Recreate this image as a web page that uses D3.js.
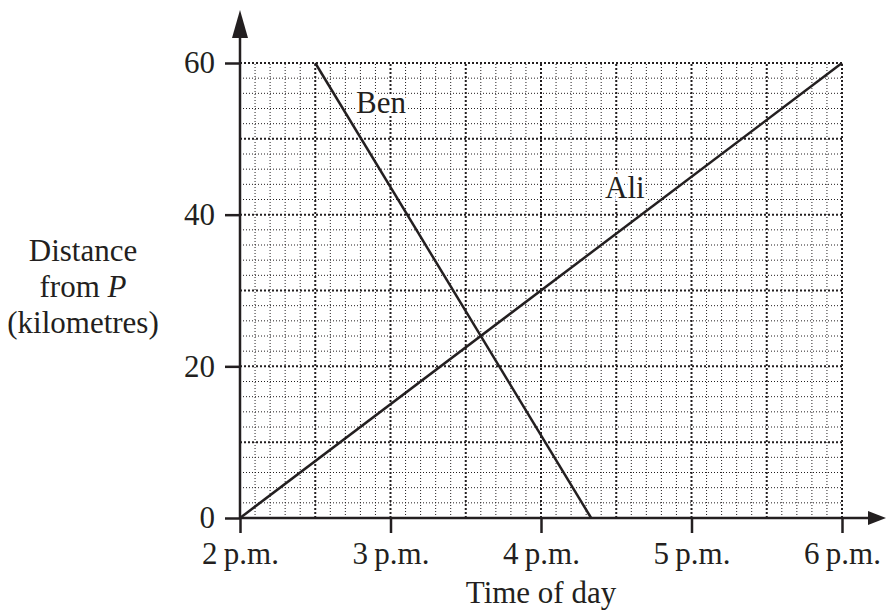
<!DOCTYPE html>
<html>
<head>
<meta charset="utf-8">
<script src="https://cdn.jsdelivr.net/npm/d3@7"></script>
<style>
  html, body { margin: 0; padding: 0; background: #fff; }
  svg text { font-family: "Liberation Serif", "Times New Roman", serif; fill: #231f20; }
</style>
</head>
<body>
<svg id="chart" width="886" height="612"></svg>
<script>
// data (hours of the day, km from P)
const aliTime = [14, 18];
const aliDist = [0, 60];
const benTime = [14.5, 16 + 20 / 60];
const benDist = [60, 0];

const xTicks = [14, 15, 16, 17, 18];
const xTickLabels = ['2\u2009p.m.', '3\u2009p.m.', '4\u2009p.m.', '5\u2009p.m.', '6\u2009p.m.'];
const yTicks = [0, 20, 40, 60];
const yTitle = ['Distance', 'from ', '(kilometres)'];

const ink = '#231f20';
const fs = 31;
let svg = d3.select('#chart');

let x = d3.scaleLinear().domain([14, 18]).range([240, 842]);
let y = d3.scaleLinear().domain([0, 60]).range([518, 63]);

// grid - minor every 6 min / 2 km, major every half hour / 10 km
let grid = svg.append('g').attr('class', 'grid');
let minorX = d3.range(0, 41).map(i => 14 + i / 10);
let minorY = d3.range(0, 31).map(i => i * 2);
let isMajorX = v => Math.abs(v * 2 - Math.round(v * 2)) < 1e-6;
let isMajorY = v => v % 10 === 0;

grid.selectAll('line.vx')
  .data(minorX.filter(v => v > 14))
  .join('line')
    .attr('x1', d => x(d)).attr('x2', d => x(d))
    .attr('y1', y(0)).attr('y2', y(60))
    .attr('stroke', ink)
    .attr('stroke-width', d => isMajorX(d) ? 2 : 1)
    .attr('stroke-dasharray', d => isMajorX(d) ? '2,2' : '1,2');

grid.selectAll('line.hy')
  .data(minorY.filter(v => v > 0))
  .join('line')
    .attr('y1', d => y(d)).attr('y2', d => y(d))
    .attr('x1', x(14)).attr('x2', x(18))
    .attr('stroke', ink)
    .attr('stroke-width', d => isMajorY(d) ? 2 : 1)
    .attr('stroke-dasharray', d => isMajorY(d) ? '2,2' : '1,2');

// axes
let xAxis = d3.axisBottom(x).tickValues(xTicks).tickSize(15).tickPadding(9)
  .tickFormat((d, i) => xTickLabels[i]);
let gx = svg.append('g').attr('transform', `translate(0,${y(0)})`).call(xAxis);
gx.select('.domain').remove();
gx.selectAll('.tick line').attr('stroke', ink).attr('stroke-width', 2.5);
gx.selectAll('.tick text').attr('font-size', fs).attr('dy', '0.71em')
  .attr('font-family', '"Liberation Serif", serif').attr('fill', ink);

let yAxis = d3.axisLeft(y).tickValues(yTicks).tickSize(15).tickPadding(10);
let gy = svg.append('g').attr('transform', `translate(${x(14)},0)`).call(yAxis);
gy.select('.domain').remove();
gy.selectAll('.tick line').attr('stroke', ink).attr('stroke-width', 2.5);
gy.selectAll('.tick text').attr('font-size', fs)
  .attr('font-family', '"Liberation Serif", serif').attr('fill', ink);

// axis lines with arrows
svg.append('line')
  .attr('x1', x(14)).attr('x2', 870).attr('y1', y(0)).attr('y2', y(0))
  .attr('stroke', ink).attr('stroke-width', 2.5);
svg.append('path')
  .attr('d', `M868,${y(0) - 7}L886,${y(0)}L868,${y(0) + 7}Z`)
  .attr('fill', ink);
svg.append('line')
  .attr('x1', x(14)).attr('x2', x(14)).attr('y1', y(0) + 1).attr('y2', 36)
  .attr('stroke', ink).attr('stroke-width', 2.5);
svg.append('path')
  .attr('d', `M${x(14) - 8},38L${x(14)},10L${x(14) + 8},38Z`)
  .attr('fill', ink);

// lines
let line = d3.line().x(d => x(d[0])).y(d => y(d[1]));
svg.append('path')
  .datum(d3.zip(aliTime, aliDist))
  .attr('d', line).attr('fill', 'none')
  .attr('stroke', ink).attr('stroke-width', 2.5);
svg.append('path')
  .datum(d3.zip(benTime, benDist))
  .attr('d', line).attr('fill', 'none')
  .attr('stroke', ink).attr('stroke-width', 2.5);

// labels
let lbl = (tx, ty, s) => svg.append('text')
  .attr('x', tx).attr('y', ty).attr('font-size', fs)
  .style('paint-order', 'stroke').attr('stroke', '#fff').attr('stroke-width', 6)
  .text(s);
lbl(356, 113, 'Ben');
lbl(605, 198, 'Ali');

svg.append('text')
  .attr('x', x(16)).attr('y', 603)
  .attr('text-anchor', 'middle').attr('font-size', fs)
  .text('Time of day');

let yt = svg.append('text').attr('text-anchor', 'middle').attr('font-size', fs);
yt.append('tspan').attr('x', 83).attr('y', 261).text(yTitle[0]);
let t2 = yt.append('tspan').attr('x', 83).attr('y', 297).text(yTitle[1]);
t2.append('tspan').attr('font-style', 'italic').text('P');
yt.append('tspan').attr('x', 83).attr('y', 333).text(yTitle[2]);
</script>
</body>
</html>
